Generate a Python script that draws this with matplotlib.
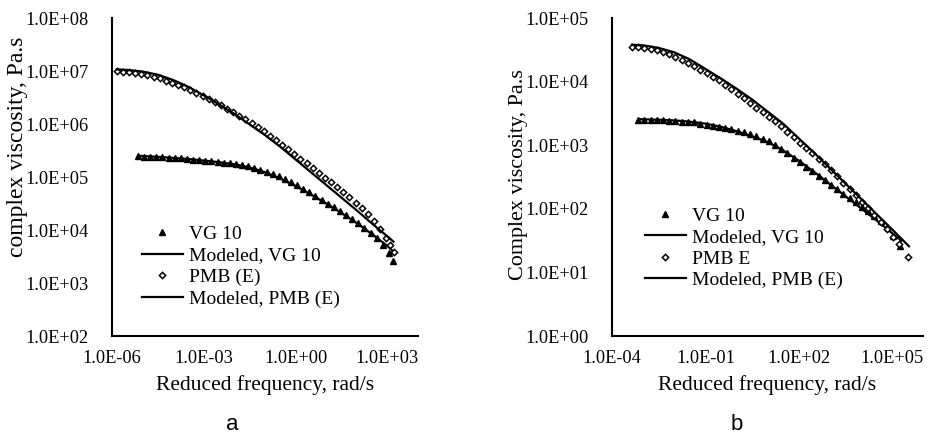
import numpy as np
import matplotlib
matplotlib.use('Agg')
import matplotlib.pyplot as plt
from matplotlib.ticker import FuncFormatter, NullLocator

# ---- panel a : log10 of reduced frequency (rad/s) and complex viscosity (Pa.s)
a_vg_f = [-5.15, -4.95, -4.75, -4.55, -4.35, -4.15, -3.95, -3.75, -3.55, -3.35,
          -3.15, -2.95, -2.75, -2.55, -2.35, -2.15, -1.95, -1.75, -1.55, -1.35,
          -1.15, -0.95, -0.75, -0.55, -0.35, -0.15, 0.05, 0.25, 0.45, 0.65,
          0.85, 1.05, 1.25, 1.45, 1.65, 1.85, 2.05, 2.25, 2.45, 2.65,
          2.85, 3.05, 3.18]
a_vg_eta = [5.39, 5.38, 5.38, 5.37, 5.37, 5.36, 5.36, 5.35, 5.34, 5.33,
            5.32, 5.31, 5.30, 5.29, 5.27, 5.26, 5.24, 5.22, 5.20, 5.17,
            5.14, 5.10, 5.06, 5.01, 4.96, 4.90, 4.84, 4.78, 4.71, 4.64,
            4.57, 4.50, 4.43, 4.36, 4.28, 4.21, 4.13, 4.04, 3.95, 3.84,
            3.72, 3.57, 3.42]
a_vg_mod_f = [-5.15, -4.5, -4.0, -3.5, -3.0, -2.5, -2.0, -1.5, -1.0, -0.5,
              0.0, 0.5, 1.0, 1.5, 2.0, 2.5, 3.0, 3.18]
a_vg_mod_eta = [5.40, 5.38, 5.36, 5.34, 5.31, 5.28, 5.24, 5.18, 5.09, 4.97,
                4.83, 4.67, 4.50, 4.32, 4.13, 3.92, 3.70, 3.60]

a_pmb_f = [-5.84, -5.64, -5.44, -5.24, -5.04, -4.84, -4.64, -4.44, -4.24, -4.04,
           -3.84, -3.64, -3.44, -3.24, -3.04, -2.84, -2.64, -2.44, -2.24, -2.04,
           -1.84, -1.64, -1.44, -1.24, -1.04, -0.84, -0.64, -0.44, -0.24, -0.04,
           0.16, 0.36, 0.56, 0.76, 0.96, 1.16, 1.36, 1.56, 1.76, 1.96,
           2.16, 2.36, 2.56, 2.76, 2.96, 3.10, 3.22]
a_pmb_eta = [7.00, 6.99, 6.98, 6.96, 6.94, 6.92, 6.89, 6.86, 6.82, 6.78,
             6.74, 6.69, 6.64, 6.58, 6.53, 6.47, 6.41, 6.35, 6.29, 6.23,
             6.16, 6.09, 6.02, 5.94, 5.86, 5.78, 5.70, 5.61, 5.52, 5.43,
             5.34, 5.26, 5.17, 5.08, 4.99, 4.91, 4.82, 4.72, 4.62, 4.51,
             4.41, 4.30, 4.17, 4.02, 3.84, 3.72, 3.58]
a_pmb_mod_f = [-5.84, -5.5, -5.0, -4.5, -4.0, -3.5, -3.0, -2.5, -2.0, -1.5,
               -1.0, -0.5, 0.0, 0.5, 1.0, 1.5, 2.0, 2.5, 3.0, 3.2]
a_pmb_mod_eta = [7.03, 7.02, 6.99, 6.93, 6.83, 6.70, 6.54, 6.37, 6.19, 5.99,
                 5.79, 5.57, 5.33, 5.09, 4.85, 4.61, 4.37, 4.12, 3.88, 3.78]

# ---- panel b
b_vg_f = [-3.16, -2.96, -2.76, -2.56, -2.36, -2.16, -1.96, -1.76, -1.56, -1.36,
          -1.16, -0.96, -0.76, -0.56, -0.36, -0.16, 0.04, 0.24, 0.44, 0.64,
          0.84, 1.04, 1.24, 1.44, 1.64, 1.84, 2.04, 2.24, 2.44, 2.64,
          2.84, 3.04, 3.24, 3.44, 3.64, 3.84, 4.04, 4.24, 4.44, 4.64,
          4.84, 5.04, 5.26]
b_vg_eta = [3.40, 3.40, 3.40, 3.39, 3.39, 3.38, 3.38, 3.37, 3.37, 3.36,
            3.34, 3.32, 3.30, 3.28, 3.27, 3.25, 3.23, 3.20, 3.17, 3.14,
            3.10, 3.06, 3.00, 2.94, 2.87, 2.80, 2.73, 2.66, 2.59, 2.52,
            2.45, 2.38, 2.31, 2.24, 2.17, 2.10, 2.03, 1.96, 1.89, 1.81,
            1.71, 1.58, 1.41]
b_vg_mod_f = [-3.16, -2.5, -2.0, -1.5, -1.0, -0.5, 0.0, 0.5, 1.0, 1.5,
              2.0, 2.5, 3.0, 3.5, 4.0, 4.5, 5.0, 5.3]
b_vg_mod_eta = [3.41, 3.40, 3.39, 3.37, 3.34, 3.29, 3.22, 3.14, 3.05, 2.92,
                2.76, 2.58, 2.39, 2.20, 2.01, 1.82, 1.62, 1.50]

b_pmb_f = [-3.36, -3.16, -2.96, -2.76, -2.56, -2.36, -2.16, -1.96, -1.76, -1.56,
           -1.36, -1.16, -0.96, -0.76, -0.56, -0.36, -0.16, 0.04, 0.24, 0.44,
           0.64, 0.84, 1.04, 1.24, 1.44, 1.64, 1.84, 2.04, 2.24, 2.44,
           2.64, 2.84, 3.04, 3.24, 3.44, 3.64, 3.84, 4.04, 4.24, 4.44,
           4.64, 4.84, 5.04, 5.24, 5.52]
b_pmb_eta = [4.55, 4.54, 4.53, 4.51, 4.49, 4.46, 4.43, 4.39, 4.34, 4.30,
             4.25, 4.19, 4.13, 4.07, 4.02, 3.95, 3.88, 3.81, 3.74, 3.66,
             3.59, 3.52, 3.45, 3.38, 3.30, 3.21, 3.13, 3.04, 2.95, 2.87,
             2.78, 2.70, 2.61, 2.51, 2.41, 2.31, 2.21, 2.11, 2.01, 1.91,
             1.80, 1.68, 1.56, 1.44, 1.25]
b_pmb_mod_f = [-3.36, -3.0, -2.5, -2.0, -1.5, -1.0, -0.5, 0.0, 0.5, 1.0,
               1.5, 2.0, 2.5, 3.0, 3.5, 4.0, 4.5, 5.0, 5.55]
b_pmb_mod_eta = [4.58, 4.57, 4.53, 4.46, 4.35, 4.20, 4.05, 3.89, 3.72, 3.53,
                 3.34, 3.11, 2.88, 2.64, 2.40, 2.16, 1.92, 1.68, 1.41]

plt.rcParams['font.family'] = ['Liberation Serif', 'DejaVu Serif']
FS = 13.2

fig = plt.figure(figsize=(9.31, 4.36), dpi=100)
W, H = 931.0, 436.0


def sci(v, pos):
    return '%.1E' % v


def panel(rect, data, xlim, ylim, xticks, labels, leg_xy):
    ax = fig.add_axes(rect)
    vg_f, vg_eta, vgm_f, vgm_eta, pm_f, pm_eta, pmm_f, pmm_eta = data
    p = lambda a: 10 ** np.array(a)
    ax.plot(p(vg_f), p(vg_eta), '^', ms=4.2, color='black', mec='black',
            label=labels[0])
    ax.plot(p(vgm_f), p(vgm_eta), '-', lw=1.6, color='black', label=labels[1])
    ax.plot(p(pm_f), p(pm_eta), 'D', ms=3.2, mfc='white', mec='black',
            mew=1.1, label=labels[2])
    ax.plot(p(pmm_f), p(pmm_eta), '-', lw=1.6, color='black', label=labels[3])
    ax.set_xscale('log')
    ax.set_yscale('log')
    ax.set_xlim(*xlim)
    ax.set_ylim(*ylim)
    ax.set_xticks(xticks)
    lo, hi = int(np.log10(ylim[0])), int(np.log10(ylim[1]))
    ax.set_yticks([10.0 ** k for k in range(lo, hi + 1)])
    ax.xaxis.set_minor_locator(NullLocator())
    ax.yaxis.set_minor_locator(NullLocator())
    ax.xaxis.set_major_formatter(FuncFormatter(sci))
    ax.yaxis.set_major_formatter(FuncFormatter(sci))
    ax.tick_params(axis='x', length=0, labelsize=FS, pad=10)
    ax.tick_params(axis='y', length=0, labelsize=FS, pad=17)
    for s in ('top', 'right'):
        ax.spines[s].set_visible(False)
    for s in ('left', 'bottom'):
        ax.spines[s].set_linewidth(1.5)
    ax.set_xlabel('Reduced frequency, rad/s', fontsize=15.5, labelpad=6)
    ax.legend(loc='center left', bbox_to_anchor=leg_xy,
              bbox_transform=fig.transFigure, frameon=False, fontsize=14,
              handlelength=2.1, handletextpad=0.3, labelspacing=0.2,
              borderpad=0, borderaxespad=0)
    return ax


panel([112 / W, 1 - 336 / H, 306 / W, 318 / H],
      (a_vg_f, a_vg_eta, a_vg_mod_f, a_vg_mod_eta,
       a_pmb_f, a_pmb_eta, a_pmb_mod_f, a_pmb_mod_eta),
      (1e-6, 1e4), (1e2, 1e8), [1e-6, 1e-3, 1e0, 1e3],
      ['VG 10', 'Modeled, VG 10', 'PMB (E)', 'Modeled, PMB (E)'],
      (142 / W, 1 - 266.5 / H))

panel([612 / W, 1 - 336 / H, 311 / W, 318 / H],
      (b_vg_f, b_vg_eta, b_vg_mod_f, b_vg_mod_eta,
       b_pmb_f, b_pmb_eta, b_pmb_mod_f, b_pmb_mod_eta),
      (1e-4, 1e6), (1e0, 1e5), [1e-4, 1e-1, 1e2, 1e5],
      ['VG 10', 'Modeled, VG 10', 'PMB E', 'Modeled, PMB (E)'],
      (645 / W, 1 - 248 / H))

fig.text(18 / W, 1 - 146.5 / H, 'complex viscosity, Pa.s', fontsize=17,
         rotation=90, ha='center', va='center')
fig.text(518 / W, 1 - 175 / H, 'Complex viscosity, Pa.s', fontsize=15.9,
         rotation=90, ha='center', va='center')

fig.text(232 / W, 1 - 424 / H, 'a', family='Liberation Sans', fontsize=16,
         ha='center', va='center')
fig.text(737 / W, 1 - 424 / H, 'b', family='Liberation Sans', fontsize=16,
         ha='center', va='center')

fig.savefig('out.png', dpi=100)
